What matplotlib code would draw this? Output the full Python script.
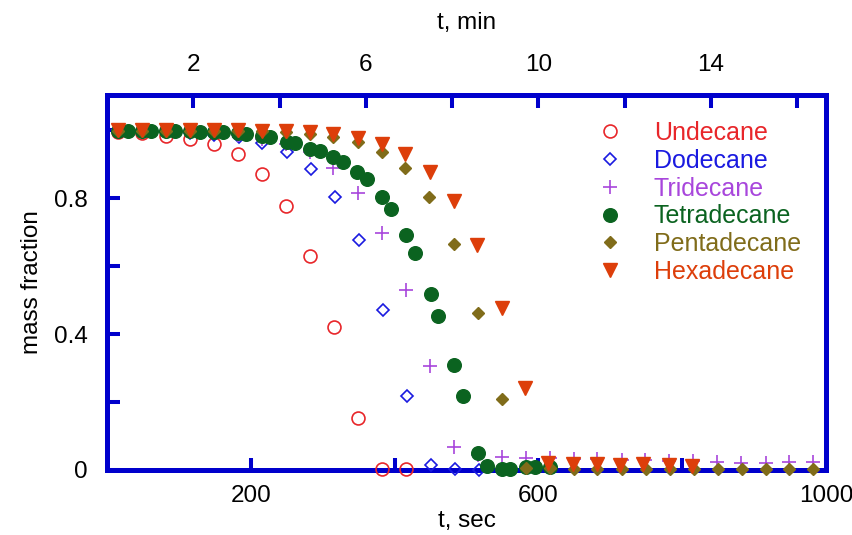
import numpy as np
import matplotlib
matplotlib.use("Agg")
import matplotlib.pyplot as plt
from matplotlib.ticker import FixedLocator, NullFormatter

plt.rcParams['font.family'] = ['Liberation Sans', 'DejaVu Sans']

undecane_t = [15, 48, 82, 115, 149, 182, 216, 249, 282, 316, 349, 383, 416]
undecane_y = [0.995, 0.990, 0.982, 0.974, 0.959, 0.929, 0.870, 0.776, 0.629, 0.421, 0.153, 0.003, 0.003]

dodecane_t = [15, 48, 82, 115, 149, 183, 216, 250, 284, 317, 350, 384, 417, 451, 484, 517]
dodecane_y = [0.997, 0.996, 0.994, 0.990, 0.985, 0.978, 0.962, 0.934, 0.884, 0.802, 0.677, 0.470, 0.218, 0.016, 0.003, 0.0]

tridecane_t = [15, 48, 82, 115, 149, 182, 216, 249, 282, 315, 349, 383, 416, 449, 483, 516,
               549, 583, 616, 649, 682, 716, 748, 781, 815, 849, 882, 916, 948, 982]
tridecane_y = [1.0, 0.999, 0.997, 0.995, 0.99, 0.985, 0.975, 0.96, 0.936, 0.889, 0.816, 0.697,
               0.530, 0.306, 0.068, 0.045, 0.037, 0.034, 0.036, 0.032, 0.031, 0.029, 0.029,
               0.027, 0.027, 0.023, 0.022, 0.022, 0.023, 0.023]

tetradecane_t = [15, 29, 49, 61, 82, 95, 116, 129, 149, 162, 182, 194, 216, 227, 250, 262,
                 283, 296, 315, 328, 348, 361, 383, 395, 416, 428, 450, 461, 483, 495, 516,
                 528, 549, 561, 583, 595, 616]
tetradecane_y = [0.997, 0.997, 0.997, 0.997, 0.997, 0.997, 0.996, 0.995, 0.995, 0.993, 0.991,
                 0.987, 0.982, 0.979, 0.966, 0.961, 0.944, 0.938, 0.920, 0.907, 0.877, 0.855,
                 0.804, 0.769, 0.691, 0.637, 0.519, 0.453, 0.309, 0.219, 0.051, 0.013, 0.002,
                 0.003, 0.008, 0.008, 0.008]

pentadecane_t = [15, 48, 82, 115, 149, 182, 216, 249, 282, 315, 349, 382, 415, 448, 482, 516,
                 549, 583, 616, 649, 682, 716, 749, 783, 816, 850, 883, 916, 949, 982]
pentadecane_y = [0.997, 0.997, 0.997, 0.997, 0.997, 0.997, 0.996, 0.993, 0.988, 0.980, 0.965,
                 0.935, 0.889, 0.804, 0.664, 0.463, 0.208, 0.007, 0.006, 0.003, 0.003, 0.002,
                 0.002, 0.002, 0.002, 0.002, 0.002, 0.002, 0.002, 0.002]

hexadecane_t = [15, 48, 82, 115, 149, 182, 216, 249, 282, 315, 349, 382, 415, 449, 482, 515,
                549, 582, 614, 648, 682, 714, 746, 781, 814]
hexadecane_y = [1.0, 1.0, 1.0, 1.0, 1.0, 1.0, 0.997, 0.996, 0.995, 0.987, 0.977, 0.959, 0.929,
                0.876, 0.791, 0.662, 0.476, 0.240, 0.021, 0.017, 0.017, 0.015, 0.017, 0.015, 0.012]

blue = '#0000cc'
fs = 17.5
legend_fs = 18

fig = plt.figure(figsize=(8.53, 5.35), dpi=100)
ax = fig.add_axes([107 / 853, 1 - 470 / 535, 719 / 853, 375 / 535])

kw = dict(linestyle='none', clip_on=False, zorder=5)
ax.plot(undecane_t, undecane_y, marker='o', ms=9.3, mfc='none', mec='#e8262a', mew=1.2,
        label='Undecane', **kw)
ax.plot(dodecane_t, dodecane_y, marker='D', ms=6.6, mfc='none', mec='#1a1ae0', mew=1.2,
        label='Dodecane', **kw)
ax.plot(tridecane_t, tridecane_y, marker='+', ms=10, mec='#a846dc', mew=1.2,
        label='Tridecane', **kw)
ax.plot(tetradecane_t, tetradecane_y, marker='o', ms=9.8, mfc='#0b6320', mec='#0b6320',
        label='Tetradecane', **kw)
ax.plot(pentadecane_t, pentadecane_y, marker='D', ms=6.6, mfc='#806c1a', mec='#806c1a',
        label='Pentadecane', **kw)
ax.plot(hexadecane_t, hexadecane_y, marker='v', ms=10, mfc='#dd3e0a', mec='#dd3e0a',
        label='Hexadecane', **kw)

ax.set_xlim(0, 1000)
ax.set_ylim(0, 1.103)

for s in ax.spines.values():
    s.set_color(blue)
    s.set_linewidth(3.6)
    s.set_zorder(3)

ax.xaxis.set_major_locator(FixedLocator([200, 600, 1000]))
ax.xaxis.set_minor_locator(FixedLocator([400, 800]))
ax.yaxis.set_major_locator(FixedLocator([0, 0.4, 0.8]))
ax.yaxis.set_minor_locator(FixedLocator([0.2, 0.6, 1.0]))
ax.set_yticklabels(['0', '0.4', '0.8'])
ax.tick_params(which='both', direction='in', color=blue, length=9, width=2.9,
               labelsize=fs, top=False, right=False)
ax.tick_params(axis='x', which='major', pad=11)
ax.tick_params(axis='y', which='major', pad=14)

ax.set_xlabel('t, sec', fontsize=fs, labelpad=2)
ax.set_ylabel('mass fraction', fontsize=fs, labelpad=8)

sec = ax.secondary_xaxis('top', functions=(lambda x: x / 60.0, lambda x: x * 60.0))
sec.xaxis.set_major_locator(FixedLocator([2, 6, 10, 14]))
sec.xaxis.set_minor_locator(FixedLocator([4, 8, 12, 16]))
sec.xaxis.set_minor_formatter(NullFormatter())
sec.tick_params(which='both', direction='in', color=blue, length=9, width=2.9,
                labelsize=fs, pad=14)
sec.spines['top'].set_color(blue)
sec.spines['top'].set_linewidth(3.6)
sec.set_xlabel('t, min', fontsize=fs, labelpad=18)

leg = ax.legend(loc='upper left', bbox_to_anchor=((599 - 107) / 719, (470 - 121) / 375),
                frameon=False, fontsize=legend_fs, handlelength=0.9, handletextpad=1.3,
                labelspacing=0.15, borderpad=0, borderaxespad=0, numpoints=1)
for txt, line in zip(leg.get_texts(), leg.get_lines()):
    txt.set_color(line.get_markeredgecolor())

fig.savefig('out.png', dpi=100)
